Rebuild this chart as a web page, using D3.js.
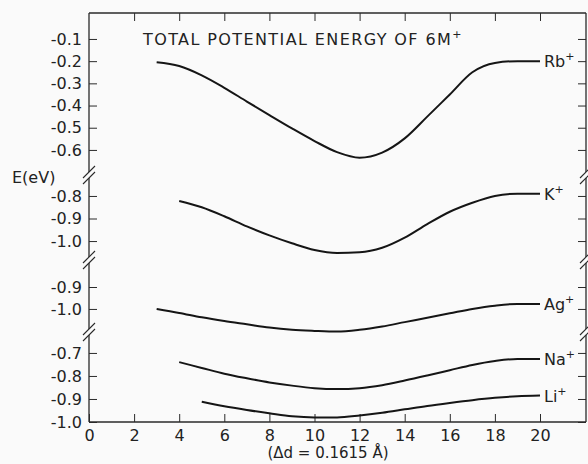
<!DOCTYPE html>
<html><head><meta charset="utf-8">
<script src="https://cdn.jsdelivr.net/npm/d3@7"></script>
<style>
html,body{margin:0;padding:0;background:#fafafa;}
svg{display:block;}
text{font-family:"DejaVu Sans",sans-serif;fill:#222;}
</style></head>
<body><div id="chart"></div>
<script>
// ---- data ----
const xTicks = [0,2,4,6,8,10,12,14,16,18,20];
const rbX = [3,4,5,6,7,8,9,10,11,12,13,14,15,16,17,18,19,20];
const rbY = [-0.205,-0.222,-0.264,-0.32,-0.382,-0.443,-0.503,-0.56,-0.61,-0.635,-0.612,-0.548,-0.45,-0.35,-0.25,-0.208,-0.2,-0.2];
const kX = [4,5,6,7,8,9,10,11,12,13,14,15,16,17,18,19,20];
const kY = [-0.822,-0.85,-0.89,-0.935,-0.975,-1.01,-1.04,-1.053,-1.05,-1.03,-0.985,-0.925,-0.87,-0.83,-0.80,-0.79,-0.79];
const agX = [3,4,5,6,7,8,9,10,11,12,13,14,15,16,17,18,19,20];
const agY = [-1.0,-1.018,-1.038,-1.055,-1.07,-1.085,-1.095,-1.1,-1.103,-1.095,-1.08,-1.06,-1.04,-1.02,-1.0,-0.985,-0.977,-0.977];
const naX = [4,5,6,7,8,9,10,11,12,13,14,15,16,17,18,19,20];
const naY = [-0.74,-0.765,-0.79,-0.81,-0.828,-0.842,-0.853,-0.857,-0.853,-0.84,-0.82,-0.798,-0.775,-0.752,-0.735,-0.726,-0.726];
const liX = [5,6,7,8,9,10,11,12,13,14,15,16,17,18,19,20];
const liY = [-0.912,-0.932,-0.948,-0.962,-0.975,-0.98,-0.98,-0.972,-0.96,-0.945,-0.93,-0.917,-0.905,-0.895,-0.888,-0.885];
const seg1Ticks = [-0.1,-0.2,-0.3,-0.4,-0.5,-0.6];
const seg2Ticks = [-0.8,-0.9,-1.0];
const seg3Ticks = [-0.9,-1.0];
const seg4Ticks = [-0.7,-0.8,-0.9,-1.0];
const seriesNames = ["Rb","K","Ag","Na","Li"];

// ---- layout ----
const W = 588, H = 464;
const mLeft = 89, mRight = 586, mTop = 13, mBottom = 422;
const svg = d3.select("#chart").append("svg").attr("width",W).attr("height",H);

const x = d3.scaleLinear().domain([0,20]).range([mLeft,540]);

// panels of the broken y axis
const panels = [
  {domain:[0.017,-0.713], range:[mTop,175], ticks:seg1Ticks},
  {domain:[-0.707,-1.084], range:[175,260], ticks:seg2Ticks},
  {domain:[-0.777,-1.105], range:[260,332], ticks:seg3Ticks},
  {domain:[-0.609,-1.0], range:[332,mBottom], ticks:seg4Ticks}
];
panels.forEach(p => p.y = d3.scaleLinear().domain(p.domain).range(p.range));

const fmt = v => v.toFixed(1);
const ink = "#2a2a2a";

// axes per panel
panels.forEach(p => {
  const gl = svg.append("g").attr("transform",`translate(${mLeft},0)`)
    .call(d3.axisLeft(p.y).tickValues(p.ticks).tickFormat(fmt).tickSizeInner(-8).tickSizeOuter(0).tickPadding(7));
  gl.select(".domain").remove();
  gl.selectAll("text").style("font-size","16px").style("font-family","DejaVu Sans").attr("fill","#222");
  gl.selectAll("line").attr("stroke",ink).attr("stroke-width",1);
  const gr = svg.append("g").attr("transform",`translate(${mRight},0)`)
    .call(d3.axisRight(p.y).tickValues(p.ticks).tickFormat("").tickSizeInner(-8).tickSizeOuter(0));
  gr.select(".domain").remove();
  gr.selectAll("line").attr("stroke",ink).attr("stroke-width",1);
});

// bottom & top axes
const gb = svg.append("g").attr("transform",`translate(0,${mBottom})`)
  .call(d3.axisBottom(x).tickValues(xTicks).tickSizeInner(-8).tickSizeOuter(0).tickPadding(8));
gb.select(".domain").remove();
gb.selectAll("text").style("font-size","16px").style("font-family","DejaVu Sans").attr("fill","#222");
gb.selectAll("line").attr("stroke",ink);
const gt = svg.append("g").attr("transform",`translate(0,${mTop})`)
  .call(d3.axisTop(x).tickValues(xTicks.filter(d=>d>0)).tickFormat("").tickSizeInner(-8).tickSizeOuter(0));
gt.select(".domain").remove();
gt.selectAll("line").attr("stroke",ink);

// frame
const frame = svg.append("g").attr("stroke",ink).attr("stroke-width",1.3).attr("fill","none");
frame.append("line").attr("x1",mLeft).attr("x2",mRight).attr("y1",mTop).attr("y2",mTop);
frame.append("line").attr("x1",mLeft).attr("x2",mRight).attr("y1",mBottom).attr("y2",mBottom);
const gap = 3;
[mLeft,mRight].forEach(xx => {
  panels.forEach((p,i) => {
    const y0 = p.range[0] + (i>0?gap:0);
    const y1 = p.range[1] - (i<panels.length-1?gap:0);
    frame.append("line").attr("x1",xx).attr("x2",xx).attr("y1",y0).attr("y2",y1);
    if (i>0) {
      [-gap,gap].forEach(o => {
        frame.append("line").attr("x1",xx-6).attr("x2",xx+6)
          .attr("y1",p.range[0]+o+6).attr("y2",p.range[0]+o-6).attr("stroke-width",1.1);
      });
    }
  });
});

// curves
const series = [
  {xs:rbX, ys:rbY, p:0}, {xs:kX, ys:kY, p:1}, {xs:agX, ys:agY, p:2},
  {xs:naX, ys:naY, p:3}, {xs:liX, ys:liY, p:3}
];
series.forEach((s,i) => {
  const yS = panels[s.p].y;
  const data = s.xs.map((d,j)=>[d,s.ys[j]]);
  svg.append("path").datum(data)
    .attr("fill","none").attr("stroke","#151515").attr("stroke-width",2)
    .attr("d", d3.line().x(d=>x(d[0])).y(d=>yS(d[1])).curve(d3.curveMonotoneX));
  const last = data[data.length-1];
  const t = svg.append("text").attr("x", x(last[0])+4).attr("y", yS(last[1])+6)
    .style("font-size","16px");
  t.append("tspan").text(seriesNames[i]);
  t.append("tspan").attr("dy",-7).style("font-size","11px").text("+");
});

// title
const tt = svg.append("text").attr("x",143).attr("y",45).style("font-size","16px").style("letter-spacing","1.4px");
tt.append("tspan").text("TOTAL POTENTIAL ENERGY OF 6M");
tt.append("tspan").attr("dy",-7).style("font-size","11px").text("+");

// axis titles
svg.append("text").attr("x",12).attr("y",183).style("font-size","16px").text("E(eV)");
svg.append("text").attr("x",328).attr("y",458).attr("text-anchor","middle").style("font-size","15px")
  .text("(Δd = 0.1615 Å)");
</script></body></html>
